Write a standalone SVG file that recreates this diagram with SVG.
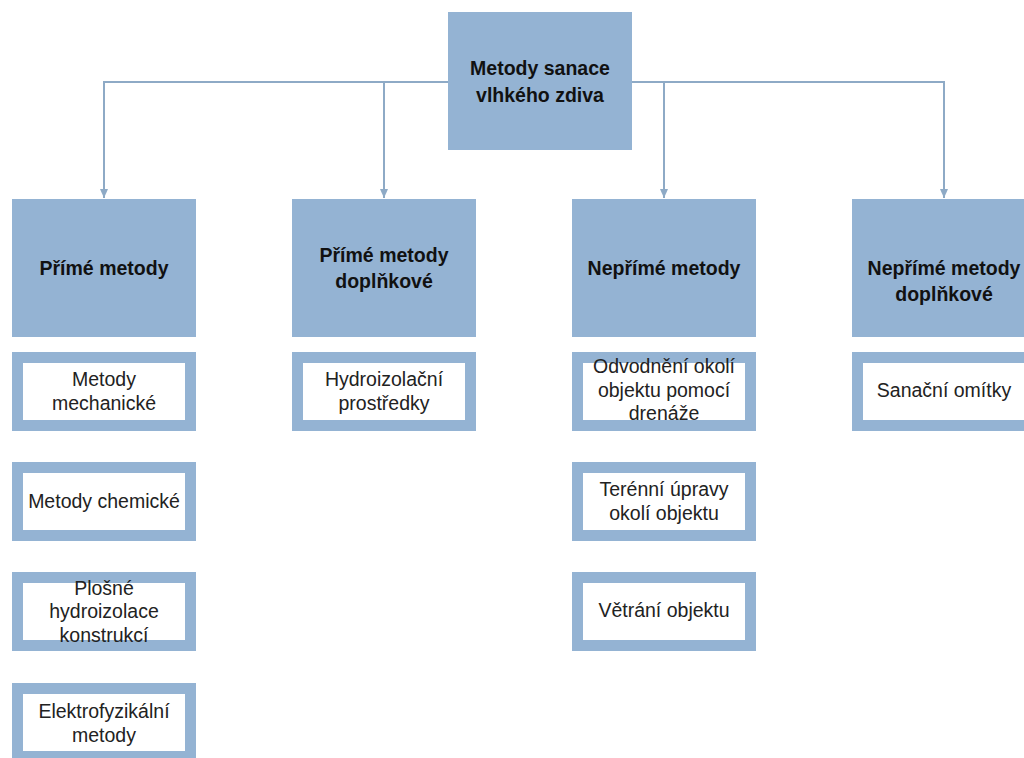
<svg xmlns="http://www.w3.org/2000/svg" width="1024" height="758" viewBox="0 0 1024 758">
<style>
.blk{fill:#94b3d3}
.wht{fill:#ffffff}
.bt{font-family:"Liberation Sans",Arial,sans-serif;font-weight:bold;font-size:19.5px;fill:#111;text-anchor:middle;dominant-baseline:central}
.rt{font-family:"Liberation Sans",Arial,sans-serif;font-size:19.5px;fill:#222;text-anchor:middle;dominant-baseline:central}
.ln{stroke:#8eaac6;stroke-width:2;fill:none}
</style>
<defs>
<marker id="ah" markerWidth="10" markerHeight="10" refX="9" refY="5" orient="auto" markerUnits="userSpaceOnUse">
<path d="M0,1 L9,5 L0,9 Z" fill="#8eaac6"/>
</marker>
</defs>
<rect width="1024" height="758" fill="#ffffff"/>
<g id="connectors">
<path class="ln" d="M448,82 H104 V198" marker-end="url(#ah)"/>
<path class="ln" d="M384,82 V198" marker-end="url(#ah)"/>
<path class="ln" d="M632,82 H944 V198" marker-end="url(#ah)"/>
<path class="ln" d="M664,82 V198" marker-end="url(#ah)"/>
</g>
<g id="root">
<rect class="blk" x="448" y="12" width="184" height="138"/>
<text class="bt" x="540" y="68">Metody sanace</text>
<text class="bt" x="540" y="95">vlhkého zdiva</text>
</g>
<g id="c1">
<rect class="blk" x="12" y="199" width="184" height="138"/>
<text class="bt" x="104" y="268">Přímé metody</text>
</g>
<g id="c2">
<rect class="blk" x="292" y="199" width="184" height="138"/>
<text class="bt" x="384" y="255">Přímé metody</text>
<text class="bt" x="384" y="281">doplňkové</text>
</g>
<g id="c3">
<rect class="blk" x="572" y="199" width="184" height="138"/>
<text class="bt" x="664" y="268">Nepřímé metody</text>
</g>
<g id="c4">
<rect class="blk" x="852" y="199" width="184" height="138"/>
<text class="bt" x="944" y="268">Nepřímé metody</text>
<text class="bt" x="944" y="294">doplňkové</text>
</g>
<g id="s1a">
<rect class="blk" x="12" y="352" width="184" height="79"/>
<rect class="wht" x="23" y="363" width="162" height="57"/>
<text class="rt" x="104" y="379">Metody</text>
<text class="rt" x="104" y="403">mechanické</text>
</g>
<g id="s1b">
<rect class="blk" x="12" y="462" width="184" height="79"/>
<rect class="wht" x="23" y="473" width="162" height="57"/>
<text class="rt" x="104" y="501">Metody chemické</text>
</g>
<g id="s1c">
<rect class="blk" x="12" y="572" width="184" height="79"/>
<rect class="wht" x="23" y="583" width="162" height="57"/>
<text class="rt" x="104" y="588">Plošné</text>
<text class="rt" x="104" y="611">hydroizolace</text>
<text class="rt" x="104" y="635">konstrukcí</text>
</g>
<g id="s1d">
<rect class="blk" x="12" y="683" width="184" height="79"/>
<rect class="wht" x="23" y="694" width="162" height="57"/>
<text class="rt" x="104" y="711">Elektrofyzikální</text>
<text class="rt" x="104" y="735">metody</text>
</g>
<g id="s2a">
<rect class="blk" x="292" y="352" width="184" height="79"/>
<rect class="wht" x="303" y="363" width="162" height="57"/>
<text class="rt" x="384" y="379">Hydroizolační</text>
<text class="rt" x="384" y="403">prostředky</text>
</g>
<g id="s3a">
<rect class="blk" x="572" y="352" width="184" height="79"/>
<rect class="wht" x="583" y="363" width="162" height="57"/>
<text class="rt" x="664" y="366">Odvodnění okolí</text>
<text class="rt" x="664" y="390">objektu pomocí</text>
<text class="rt" x="664" y="413">drenáže</text>
</g>
<g id="s3b">
<rect class="blk" x="572" y="462" width="184" height="79"/>
<rect class="wht" x="583" y="473" width="162" height="57"/>
<text class="rt" x="664" y="489">Terénní úpravy</text>
<text class="rt" x="664" y="513">okolí objektu</text>
</g>
<g id="s3c">
<rect class="blk" x="572" y="572" width="184" height="79"/>
<rect class="wht" x="583" y="583" width="162" height="57"/>
<text class="rt" x="664" y="610">Větrání objektu</text>
</g>
<g id="s4a">
<rect class="blk" x="852" y="352" width="184" height="79"/>
<rect class="wht" x="863" y="363" width="162" height="57"/>
<text class="rt" x="944" y="390">Sanační omítky</text>
</g>
</svg>
